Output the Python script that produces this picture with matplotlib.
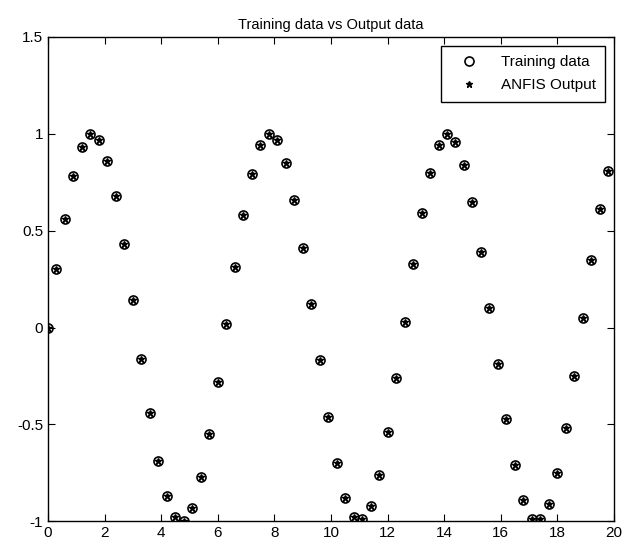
import matplotlib
matplotlib.use('Agg')
import matplotlib.pyplot as plt

plt.rcParams['font.family'] = ['Liberation Sans', 'DejaVu Sans']

# sample positions
x = [0.0, 0.3, 0.6, 0.9, 1.2, 1.5, 1.8, 2.1, 2.4, 2.7,
     3.0, 3.3, 3.6, 3.9, 4.2, 4.5, 4.8, 5.1, 5.4, 5.7,
     6.0, 6.3, 6.6, 6.9, 7.2, 7.5, 7.8, 8.1, 8.4, 8.7,
     9.0, 9.3, 9.6, 9.9, 10.2, 10.5, 10.8, 11.1, 11.4, 11.7,
     12.0, 12.3, 12.6, 12.9, 13.2, 13.5, 13.8, 14.1, 14.4, 14.7,
     15.0, 15.3, 15.6, 15.9, 16.2, 16.5, 16.8, 17.1, 17.4, 17.7,
     18.0, 18.3, 18.6, 18.9, 19.2, 19.5, 19.8]

# training data
training = [0.00, 0.30, 0.56, 0.78, 0.93, 1.00, 0.97, 0.86, 0.68, 0.43,
            0.14, -0.16, -0.44, -0.69, -0.87, -0.98, -1.00, -0.93, -0.77, -0.55,
            -0.28, 0.02, 0.31, 0.58, 0.79, 0.94, 1.00, 0.97, 0.85, 0.66,
            0.41, 0.12, -0.17, -0.46, -0.70, -0.88, -0.98, -0.99, -0.92, -0.76,
            -0.54, -0.26, 0.03, 0.33, 0.59, 0.80, 0.94, 1.00, 0.96, 0.84,
            0.65, 0.39, 0.10, -0.19, -0.47, -0.71, -0.89, -0.99, -0.99, -0.91,
            -0.75, -0.52, -0.25, 0.05, 0.35, 0.61, 0.81]

# ANFIS output (sits on top of the training points)
anfis = [0.00, 0.30, 0.56, 0.78, 0.93, 1.00, 0.97, 0.86, 0.68, 0.43,
         0.14, -0.16, -0.44, -0.69, -0.87, -0.98, -1.00, -0.93, -0.77, -0.55,
         -0.28, 0.02, 0.31, 0.58, 0.79, 0.94, 1.00, 0.97, 0.85, 0.66,
         0.41, 0.12, -0.17, -0.46, -0.70, -0.88, -0.98, -0.99, -0.92, -0.76,
         -0.54, -0.26, 0.03, 0.33, 0.59, 0.80, 0.94, 1.00, 0.96, 0.84,
         0.65, 0.39, 0.10, -0.19, -0.47, -0.71, -0.89, -0.99, -0.99, -0.91,
         -0.75, -0.52, -0.25, 0.05, 0.35, 0.61, 0.81]

fig = plt.figure(figsize=(6.31, 5.51), dpi=100)
ax = fig.add_axes([0.076, 0.054, 0.897, 0.879])

ax.plot(x, training, 'o', mfc='none', mec='black', mew=1.2, ms=6.5, label='Training data')
ax.plot(x, anfis, '*', color='black', ms=5, label='ANFIS Output')

ax.set_xlim(0, 20)
ax.set_ylim(-1, 1.5)
ax.set_xticks(range(0, 21, 2))
ax.set_yticks([-1, -0.5, 0, 0.5, 1, 1.5])
ax.set_yticklabels(['-1', '-0.5', '0', '0.5', '1', '1.5'])
ax.tick_params(direction='in', top=True, right=True, labelsize=11, length=5)
for s in ax.spines.values():
    s.set_linewidth(1.0)

ax.set_title('Training data vs Output data', fontsize=10.5)
leg = ax.legend(loc='upper right', fontsize=11, fancybox=False, framealpha=1,
                edgecolor='black', borderaxespad=0.6, borderpad=0.6,
                handlelength=2.5, labelspacing=0.6)
leg.get_frame().set_linewidth(1.0)

fig.savefig('out.png', dpi=100)
